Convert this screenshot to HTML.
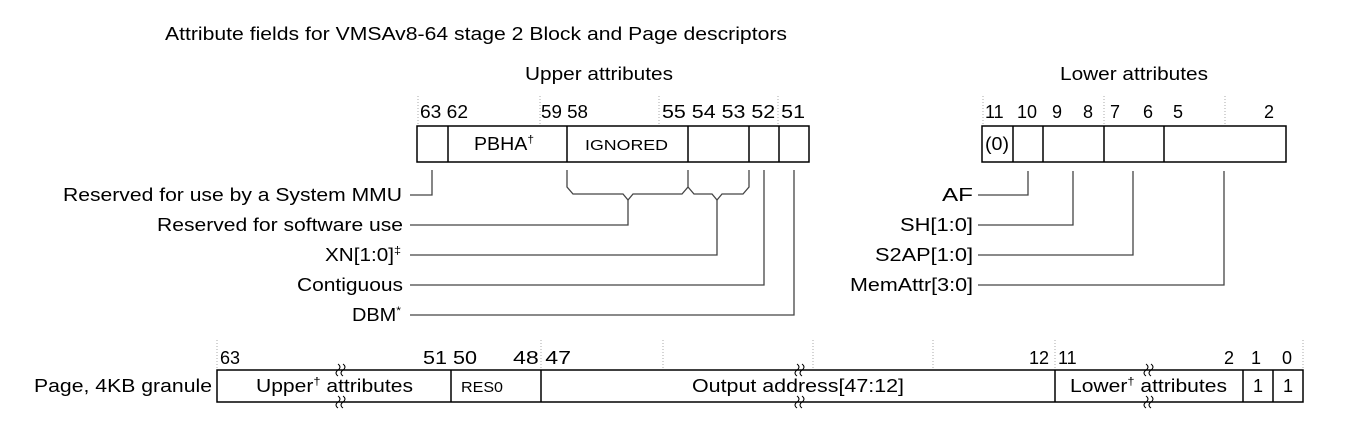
<!DOCTYPE html>
<html><head><meta charset="utf-8"><style>
html,body{margin:0;padding:0;background:#fff;}
svg{display:block;font-family:"Liberation Sans",Arial,sans-serif;}
</style></head><body>
<svg width="1365" height="435" viewBox="0 0 1365 435" xmlns="http://www.w3.org/2000/svg">
<g fill="#000" font-size="18">
<text x="165" y="40" textLength="622" lengthAdjust="spacingAndGlyphs">Attribute fields for VMSAv8-64 stage 2 Block and Page descriptors</text>
<text x="525" y="80" textLength="148" lengthAdjust="spacingAndGlyphs">Upper attributes</text>
<text x="1060" y="80" textLength="148" lengthAdjust="spacingAndGlyphs">Lower attributes</text>
</g>
<g stroke="#aaa" stroke-width="1" stroke-dasharray="1,2">
<line x1="418" y1="96" x2="418" y2="126"/><line x1="540" y1="96" x2="540" y2="126"/>
<line x1="659" y1="96" x2="659" y2="126"/><line x1="778" y1="96" x2="778" y2="126"/>
<line x1="983" y1="96" x2="983" y2="126"/><line x1="1104" y1="96" x2="1104" y2="126"/><line x1="1225" y1="96" x2="1225" y2="126"/>
<line x1="217" y1="340" x2="217" y2="370"/><line x1="541" y1="340" x2="541" y2="370"/>
<line x1="663" y1="340" x2="663" y2="370"/><line x1="813" y1="340" x2="813" y2="370"/>
<line x1="933" y1="340" x2="933" y2="370"/><line x1="1055" y1="340" x2="1055" y2="370"/><line x1="1303" y1="340" x2="1303" y2="370"/>
</g>
<g font-size="18" fill="#000">
<text x="420" y="118" textLength="48" lengthAdjust="spacingAndGlyphs">63 62</text>
<text x="541" y="118" textLength="47" lengthAdjust="spacingAndGlyphs">59 58</text>
<text x="662" y="118" textLength="143" lengthAdjust="spacingAndGlyphs">55 54 53 52 51</text>
<text x="985" y="118">11</text>
<text x="1017" y="118">10</text>
<text x="1052" y="118">9</text><text x="1083" y="118">8</text>
<text x="1110" y="118">7</text><text x="1143" y="118">6</text><text x="1173" y="118">5</text><text x="1264" y="118">2</text>
</g>
<g stroke="#000" stroke-width="1.5" fill="none">
<rect x="417" y="126" width="392" height="36"/>
<line x1="448" y1="126" x2="448" y2="162"/><line x1="567" y1="126" x2="567" y2="162"/>
<line x1="688" y1="126" x2="688" y2="162"/><line x1="749" y1="126" x2="749" y2="162"/><line x1="779" y1="126" x2="779" y2="162"/>
<rect x="982" y="126" width="304" height="36"/>
<line x1="1013" y1="126" x2="1013" y2="162"/><line x1="1043" y1="126" x2="1043" y2="162"/>
<line x1="1104" y1="126" x2="1104" y2="162"/><line x1="1164" y1="126" x2="1164" y2="162"/>
</g>
<g font-size="18" fill="#000">
<text x="474" y="150" textLength="60" lengthAdjust="spacingAndGlyphs">PBHA<tspan font-size="11" dy="-7">†</tspan></text>
<text x="585" y="150" font-size="15" textLength="83" lengthAdjust="spacingAndGlyphs">IGNORED</text>
<text x="985" y="150" textLength="24" lengthAdjust="spacingAndGlyphs">(0)</text>
</g>
<g stroke="#444" stroke-width="1.3" fill="none">
<polyline points="432,170 432,195 410,195"/>
<polyline points="567,170 567,187 573,194 623,194 628,200 633,194 682,194 688,187 688,170"/>
<polyline points="688,187 694,194 712,194 717,200 722,194 743,194 749,187 749,170"/>
<polyline points="628,200 628,225 410,225"/>
<polyline points="717,200 717,255 410,255"/>
<polyline points="764,170 764,285 410,285"/>
<polyline points="794,170 794,315 410,315"/>
<polyline points="1028,171 1028,195 978,195"/>
<polyline points="1073,171 1073,225 978,225"/>
<polyline points="1133,171 1133,255 978,255"/>
<polyline points="1224,171 1224,285 978,285"/>
</g>
<g font-size="18" fill="#000">
<text x="63" y="201" textLength="339" lengthAdjust="spacingAndGlyphs">Reserved for use by a System MMU</text>
<text x="157" y="231" textLength="246" lengthAdjust="spacingAndGlyphs">Reserved for software use</text>
<text x="325" y="261" textLength="76" lengthAdjust="spacingAndGlyphs">XN[1:0]<tspan font-size="11" dy="-7">‡</tspan></text>
<text x="297" y="291" textLength="106" lengthAdjust="spacingAndGlyphs">Contiguous</text>
<text x="352" y="321" textLength="49" lengthAdjust="spacingAndGlyphs">DBM<tspan font-size="11" dy="-7">*</tspan></text>
<text x="942" y="201" textLength="31" lengthAdjust="spacingAndGlyphs">AF</text>
<text x="900" y="231" textLength="73" lengthAdjust="spacingAndGlyphs">SH[1:0]</text>
<text x="875" y="261" textLength="98" lengthAdjust="spacingAndGlyphs">S2AP[1:0]</text>
<text x="850" y="291" textLength="123" lengthAdjust="spacingAndGlyphs">MemAttr[3:0]</text>
<text x="34" y="392" textLength="178" lengthAdjust="spacingAndGlyphs">Page, 4KB granule</text>
</g>
<g font-size="18" fill="#000">
<text x="220" y="364">63</text>
<text x="423" y="364" textLength="54" lengthAdjust="spacingAndGlyphs">51 50</text>
<text x="513" y="364" textLength="58" lengthAdjust="spacingAndGlyphs">48 47</text>
<text x="1029" y="364">12</text>
<text x="1058" y="364">11</text>
<text x="1224" y="364">2</text><text x="1251" y="364">1</text><text x="1282" y="364">0</text>
</g>
<g stroke="#000" stroke-width="1.5" fill="none">
<rect x="217" y="370" width="1086" height="32"/>
<line x1="451" y1="370" x2="451" y2="402"/><line x1="541" y1="370" x2="541" y2="402"/>
<line x1="1055" y1="370" x2="1055" y2="402"/><line x1="1243" y1="370" x2="1243" y2="402"/><line x1="1273" y1="370" x2="1273" y2="402"/>
</g>
<g stroke="#000" stroke-width="1" fill="none">
<path d="M338,364 q4,3 0,6 q-4,3 0,6 M343,364 q4,3 0,6 q-4,3 0,6"/>
<path d="M338,396 q4,3 0,6 q-4,3 0,6 M343,396 q4,3 0,6 q-4,3 0,6"/>
<path d="M797,364 q4,3 0,6 q-4,3 0,6 M802,364 q4,3 0,6 q-4,3 0,6"/>
<path d="M797,396 q4,3 0,6 q-4,3 0,6 M802,396 q4,3 0,6 q-4,3 0,6"/>
<path d="M1146,364 q4,3 0,6 q-4,3 0,6 M1151,364 q4,3 0,6 q-4,3 0,6"/>
<path d="M1146,396 q4,3 0,6 q-4,3 0,6 M1151,396 q4,3 0,6 q-4,3 0,6"/>
</g>
<g font-size="18" fill="#000">
<text x="256" y="392" textLength="157" lengthAdjust="spacingAndGlyphs">Upper<tspan font-size="11" dy="-7">†</tspan><tspan dy="7"> attributes</tspan></text>
<text x="461" y="392" font-size="15" textLength="42" lengthAdjust="spacingAndGlyphs">RES0</text>
<text x="692" y="392" textLength="212" lengthAdjust="spacingAndGlyphs">Output address[47:12]</text>
<text x="1070" y="392" textLength="157" lengthAdjust="spacingAndGlyphs">Lower<tspan font-size="11" dy="-7">†</tspan><tspan dy="7"> attributes</tspan></text>
<text x="1258" y="392" text-anchor="middle">1</text><text x="1288" y="392" text-anchor="middle">1</text>
</g>
</svg>
</body></html>
